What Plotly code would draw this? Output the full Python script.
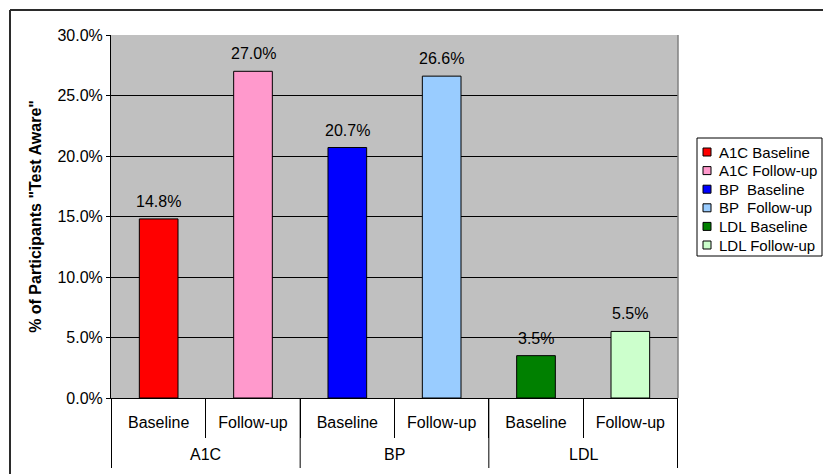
import plotly.graph_objects as go

# ---- data ----
series_names = ["A1C Baseline", "A1C Follow-up", "BP  Baseline", "BP  Follow-up", "LDL Baseline", "LDL Follow-up"]
sub_labels = ["Baseline", "Follow-up", "Baseline", "Follow-up", "Baseline", "Follow-up"]
group_labels = ["A1C", "BP", "LDL"]
values = [0.148, 0.270, 0.207, 0.266, 0.035, 0.055]
colors = ["#FF0000", "#FF99CC", "#0000FF", "#99CCFF", "#008000", "#CCFFCC"]

FONT = "Liberation Sans, Arial, sans-serif"
W, H = 823, 474
PL, PR, PT, PB = 111, 678, 35, 398  # plot area in pixels


def px_x(p):
    return (p - PL) / (PR - PL)


def px_y(p):
    return (PB - p) / (PB - PT)


fig = go.Figure()
for name, v, c in zip(series_names, values, colors):
    fig.add_trace(go.Bar(
        x=[name], y=[v], name=name, width=0.41,
        marker=dict(color=c, line=dict(color="black", width=1)),
        showlegend=False, hoverinfo="skip",
    ))

shapes = []
annotations = []

# data labels
for name, v in zip(series_names, values):
    annotations.append(dict(
        x=name, y=v, xref="x", yref="y", text=f"{v*100:.1f}%",
        showarrow=False, yanchor="middle", yshift=17.5,
        font=dict(family=FONT, size=16, color="black"),
    ))

# group separators and group labels
for b in [-0.5, 1.5, 3.5, 5.5]:
    shapes.append(dict(type="line", xref="x", yref="paper", x0=b, x1=b,
                       y0=0, y1=px_y(468), line=dict(color="black", width=1)))
for i, g in enumerate(group_labels):
    annotations.append(dict(
        x=2 * i + 0.5, y=px_y(455), xref="x", yref="paper", text=g,
        showarrow=False, xanchor="center", yanchor="middle",
        font=dict(family=FONT, size=16, color="black"),
    ))

# plot area right border
shapes.append(dict(type="line", xref="paper", yref="paper", x0=1, x1=1, y0=0, y1=1,
                   line=dict(color="#808080", width=1.5)))

# outer chart border (top and left visible)
shapes.append(dict(type="line", xref="paper", yref="paper", x0=px_x(10), x1=px_x(840),
                   y0=px_y(10), y1=px_y(10), line=dict(color="#2b2b2b", width=2)))
shapes.append(dict(type="line", xref="paper", yref="paper", x0=px_x(10), x1=px_x(10),
                   y0=px_y(10), y1=px_y(490), line=dict(color="#2b2b2b", width=2)))

# legend (box, keys, labels)
shapes.append(dict(type="rect", xref="paper", yref="paper", x0=px_x(697), x1=px_x(822),
                   y0=px_y(256), y1=px_y(138), line=dict(color="black", width=1),
                   fillcolor="white", layer="above"))
for i, (name, c) in enumerate(zip(series_names, colors)):
    cy = 152 + 18.6 * i
    shapes.append(dict(type="rect", xref="paper", yref="paper",
                       x0=px_x(703), x1=px_x(711), y0=px_y(cy + 4), y1=px_y(cy - 4),
                       line=dict(color="black", width=1), fillcolor=c, layer="above"))
    annotations.append(dict(
        x=px_x(717), y=px_y(cy), xref="paper", yref="paper", text=name,
        showarrow=False, xanchor="left", yanchor="middle",
        font=dict(family=FONT, size=15, color="black"),
    ))

fig.update_layout(
    width=W, height=H,
    margin=dict(l=PL, r=W - PR, t=PT, b=H - PB, autoexpand=False),
    paper_bgcolor="white", plot_bgcolor="#C0C0C0",
    barmode="overlay", showlegend=False,
    font=dict(family=FONT, size=16, color="black"),
    shapes=shapes, annotations=annotations,
    xaxis=dict(
        type="category", categoryorder="array", categoryarray=series_names,
        tickmode="array", tickvals=series_names, ticktext=sub_labels,
        ticks="outside", tickson="boundaries", ticklen=39, tickwidth=1, tickcolor="black",
        showline=True, linecolor="black", linewidth=1, showgrid=False,
        ticklabelstandoff=10,
        tickfont=dict(family=FONT, size=16, color="black"),
    ),
    yaxis=dict(
        range=[0, 0.30], dtick=0.05, tickformat=".1%",
        ticks="outside", ticklen=4, tickcolor="black",
        showline=True, linecolor="black", linewidth=1,
        showgrid=True, gridcolor="black", gridwidth=1, zeroline=False,
        tickfont=dict(family=FONT, size=16, color="black"),
        title=dict(text='<b>% of Participants "Test Aware"</b>', standoff=11,
                   font=dict(family=FONT, size=16, color="black")),
    ),
)

fig.write_html("out.html")
